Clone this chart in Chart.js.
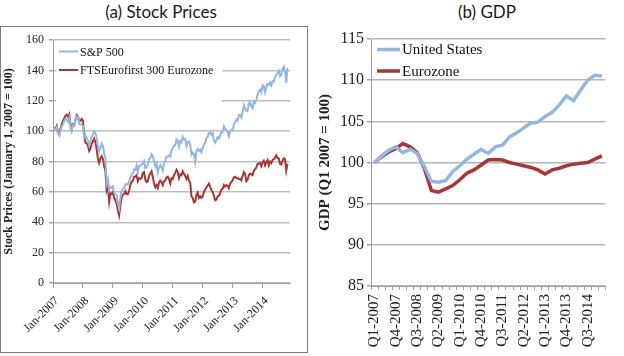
<!DOCTYPE html>
<html>
<head>
<meta charset="utf-8">
<script src="https://cdn.jsdelivr.net/npm/chart.js@4.4.0/dist/chart.umd.min.js"></script>
<style>
  html, body { margin: 0; padding: 0; background: #fff; }
  body { width: 624px; height: 356px; position: relative; overflow: hidden; }
  .title { position: absolute; top: 0; font-family: Lato, "Noto Sans", sans-serif; font-size: 17px; color: #1a1a1a; white-space: nowrap; transform: translateX(-50%); line-height: 24px; }
  #box { position: absolute; left: 0; top: 26px; width: 308px; height: 327px; box-sizing: border-box; border: 1px solid #7a7a7a; }
  canvas { position: absolute; top: 0; }
</style>
</head>
<body>
<div class="title" style="left:161px">(a) Stock Prices</div>
<div class="title" style="left:487px">(b) GDP</div>
<div id="box"></div>
<div style="position:absolute;left:0;top:0;width:312px;height:356px"><canvas id="c1"></canvas></div>
<div style="position:absolute;left:312px;top:0;width:312px;height:356px"><canvas id="c2"></canvas></div>
<script>
// ---------- Panel (a): stock prices, semi-monthly observations from Jan-2007 ----------
const stockYearLabels = ["Jan-2007","Jan-2008","Jan-2009","Jan-2010","Jan-2011","Jan-2012","Jan-2013","Jan-2014"];
const sp500 = [
  100.0,101.5,101.4,102.7,98.4,97.3,100.2,103.0,104.5,106.7,107.9,107.8,106.0,108.8,102.6,100.1,103.9,104.5,107.6,109.8,109.2,104.7,104.4,104.5,
  103.5,95.3,97.2,95.3,93.8,90.6,93.3,96.3,97.7,99.8,98.7,95.4,90.2,87.0,89.3,91.9,90.4,85.1,82.2,65.5,68.3,61.0,63.2,62.9,
  63.7,59.5,58.2,58.0,51.8,49.0,56.2,61.0,61.5,62.6,64.8,65.3,64.8,66.6,69.6,71.2,72.0,74.6,74.5,77.2,73.0,77.1,77.3,78.0,
  78.6,80.3,75.7,76.2,77.8,81.6,82.4,84.7,83.7,79.9,76.8,78.8,72.7,75.9,77.7,76.3,74.0,79.2,80.4,83.0,83.4,84.0,83.2,87.4,
  88.7,90.6,90.7,94.5,93.6,89.8,93.5,92.7,96.2,94.5,94.8,90.0,93.1,93.2,91.1,84.5,85.9,85.0,79.8,86.9,88.4,87.0,87.9,86.1,
  88.7,91.2,92.5,95.5,96.3,98.8,99.3,97.5,98.6,93.9,92.3,94.0,96.0,95.0,97.2,99.2,99.2,103.2,101.6,100.6,99.5,96.5,99.8,100.9,
  100.5,104.5,105.6,107.7,106.8,110.6,110.6,109.0,112.6,117.0,115.0,113.3,113.2,118.3,118.9,116.2,115.1,119.7,118.6,120.5,123.9,126.5,127.3,125.5,
  130.3,129.8,125.7,129.0,131.1,130.4,132.0,130.2,132.8,132.5,135.6,137.4,138.2,139.8,136.1,137.0,141.2,142.6,139.1,131.9,141.6
];
const eurofirst = [
  100.0,101.8,101.6,103.5,99.0,97.5,101.8,104.5,106.5,108.5,110.2,110.8,109.5,111.2,104.8,101.0,104.5,104.0,107.2,110.5,109.8,106.5,106.8,108.0,
  107.0,97.0,92.5,92.0,90.5,87.0,88.5,91.5,93.5,95.0,92.5,88.0,82.0,79.0,82.0,83.5,82.0,77.0,74.0,61.0,63.5,53.5,59.0,58.5,
  60.0,56.0,54.5,52.0,48.0,44.5,51.0,56.0,58.0,58.5,60.5,58.5,58.5,60.5,64.5,66.5,67.5,70.0,70.0,71.0,67.0,69.0,68.5,69.0,
  72.5,73.0,68.0,66.5,67.0,70.5,72.0,73.5,70.0,65.5,63.0,64.5,62.5,66.0,67.5,66.5,64.5,67.0,67.5,69.5,70.0,68.5,65.5,69.0,
  68.5,71.0,72.5,74.5,73.0,69.0,71.5,71.0,73.5,72.0,70.5,68.5,70.5,67.5,66.0,57.0,56.0,53.0,53.5,58.0,59.5,56.0,57.0,56.0,
  57.0,60.0,61.5,63.0,64.0,65.5,63.5,61.0,60.0,57.5,54.5,55.0,57.0,57.5,59.0,61.5,62.0,64.5,63.5,64.5,64.0,62.5,65.5,66.5,
  67.5,69.5,70.0,69.0,69.0,68.5,68.5,67.5,70.5,73.0,72.0,67.0,68.0,71.0,72.0,71.5,71.0,74.0,75.0,76.0,78.5,78.5,79.0,77.0,
  79.5,80.5,77.5,79.5,81.0,77.5,80.0,79.0,81.0,81.5,82.5,84.0,82.5,82.0,78.5,78.0,80.5,82.0,81.5,74.0,78.5
];

// ---------- Panel (b): GDP, quarterly, Q1-2007 = 100 ----------
const quarters = [
  "Q1-2007","Q2-2007","Q3-2007","Q4-2007","Q1-2008","Q2-2008","Q3-2008","Q4-2008",
  "Q1-2009","Q2-2009","Q3-2009","Q4-2009","Q1-2010","Q2-2010","Q3-2010","Q4-2010",
  "Q1-2011","Q2-2011","Q3-2011","Q4-2011","Q1-2012","Q2-2012","Q3-2012","Q4-2012",
  "Q1-2013","Q2-2013","Q3-2013","Q4-2013","Q1-2014","Q2-2014","Q3-2014","Q4-2014","Q1-2015"
];
const gdpUS = [100.0,100.8,101.5,101.9,101.2,101.6,101.1,99.5,97.7,97.6,97.8,98.9,99.6,100.4,101.0,101.6,
  101.1,101.9,102.1,103.1,103.6,104.2,104.8,104.9,105.6,106.1,107.0,108.1,107.5,108.8,110.0,110.6,110.5];
const gdpEZ = [100.0,100.7,101.3,101.7,102.3,101.9,101.2,99.3,96.6,96.4,96.8,97.2,97.9,98.7,99.1,99.7,
  100.3,100.35,100.3,100.0,99.8,99.6,99.4,99.1,98.6,99.1,99.3,99.6,99.8,99.9,100.0,100.4,100.8];

const BLUE = '#95b7df';
const RED = '#a83636';
const SERIF = "'Liberation Serif', 'Times New Roman', serif";

const inlineLegend = {
  id: 'inlineLegend',
  beforeDatasetsDraw(chart, args, o) {
    const { ctx, chartArea } = chart;
    ctx.save();
    if (o.bg) {
      ctx.fillStyle = '#ffffff';
      ctx.fillRect(chartArea.left + o.bg[0], chartArea.top + o.bg[1], o.bg[2], o.bg[3]);
    }
    ctx.font = o.font;
    ctx.textBaseline = 'middle';
    ctx.textAlign = 'left';
    chart.data.datasets.forEach((ds, i) => {
      const y = chartArea.top + o.y + i * o.gap;
      ctx.strokeStyle = ds.borderColor;
      ctx.lineWidth = o.lineWidth;
      ctx.beginPath();
      ctx.moveTo(chartArea.left + o.x0, y);
      ctx.lineTo(chartArea.left + o.x1, y);
      ctx.stroke();
      ctx.fillStyle = '#111';
      ctx.fillText(ds.label, chartArea.left + o.tx, y + 1);
    });
    ctx.restore();
  }
};

const halfMonth = (arr) => arr.map((v, i) => ({ x: i / 2, y: v }));

new Chart(document.getElementById('c1'), {
  type: 'line',
  data: {
    datasets: [
      { label: 'S&P 500', data: halfMonth(sp500), borderColor: BLUE, borderWidth: 2, pointRadius: 0, tension: 0 },
      { label: 'FTSEurofirst 300 Eurozone', data: halfMonth(eurofirst), borderColor: RED, borderWidth: 2, pointRadius: 0, tension: 0 }
    ]
  },
  plugins: [inlineLegend],
  options: {
    responsive: true, maintainAspectRatio: false, animation: false,
    layout: { padding: { top: 40, right: 22, left: 0, bottom: 0 } },
    plugins: {
      legend: { display: false }, tooltip: { enabled: false },
      inlineLegend: { font: "12px " + SERIF, x0: 6, x1: 25, tx: 27, y: 11.5, gap: 18.5, lineWidth: 2, bg: [3, 3, 166, 76] }
    },
    scales: {
      x: {
        type: 'linear', min: 0, max: 95,
        afterFit(s) { s.height = 73; },
        ticks: {
          stepSize: 12, autoSkip: false, maxRotation: 45, minRotation: 45, padding: 6, labelOffset: 4,
          font: { family: SERIF, size: 12 }, color: '#222',
          callback: (v) => (v % 12 === 0 && v / 12 < stockYearLabels.length) ? stockYearLabels[v / 12] : null
        },
        grid: { drawOnChartArea: false, drawTicks: true, tickLength: 5, color: '#a0a0a0' },
        border: { color: '#a0a0a0' }
      },
      y: {
        min: 0, max: 160,
        afterFit(s) { s.width = 53; },
        title: { display: true, text: 'Stock Prices (January 1, 2007 = 100)', font: { family: SERIF, size: 12, weight: 'bold' }, color: '#222', padding: { top: 2, bottom: 0 } },
        ticks: { stepSize: 20, font: { family: SERIF, size: 12 }, color: '#222', padding: 5 },
        grid: { color: '#bdbdbd', lineWidth: 1.5, tickLength: 4, tickColor: '#a0a0a0' },
        border: { color: '#a0a0a0' }
      }
    }
  }
});

new Chart(document.getElementById('c2'), {
  type: 'line',
  data: {
    labels: quarters,
    datasets: [
      { label: 'United States', data: gdpUS, borderColor: BLUE, borderWidth: 3.5, pointRadius: 0, tension: 0 },
      { label: 'Eurozone', data: gdpEZ, borderColor: RED, borderWidth: 3.5, pointRadius: 0, tension: 0 }
    ]
  },
  plugins: [inlineLegend],
  options: {
    responsive: true, maintainAspectRatio: false, animation: false,
    layout: { padding: { top: 39, right: 6, left: 0, bottom: 0 } },
    plugins: {
      legend: { display: false }, tooltip: { enabled: false },
      inlineLegend: { font: "15px " + SERIF, x0: 6, x1: 29, tx: 31, y: 10.5, gap: 21.5, lineWidth: 3.5 }
    },
    scales: {
      x: {
        type: 'category', offset: true,
        afterFit(s) { s.height = 70; },
        ticks: {
          autoSkip: false, maxRotation: 90, minRotation: 90, padding: 4,
          font: { family: SERIF, size: 15 }, color: '#222',
          callback: function (v, i) { return i % 3 === 0 ? this.getLabelForValue(v) : ''; }
        },
        grid: { offset: true, drawOnChartArea: false, drawTicks: true, tickLength: 4, color: '#a0a0a0' },
        border: { color: '#a0a0a0' }
      },
      y: {
        min: 85, max: 115,
        afterFit(s) { s.width = 59; },
        title: { display: true, text: 'GDP (Q1 2007 = 100)', font: { family: SERIF, size: 15, weight: 'bold' }, color: '#222', padding: { top: 4, bottom: 0 } },
        ticks: { stepSize: 5, font: { family: SERIF, size: 16 }, color: '#222', padding: 3 },
        grid: { color: '#b5b5b5', lineWidth: 1.5, tickLength: 4, tickColor: '#a0a0a0' },
        border: { color: '#a0a0a0' }
      }
    }
  }
});
</script>
</body>
</html>
